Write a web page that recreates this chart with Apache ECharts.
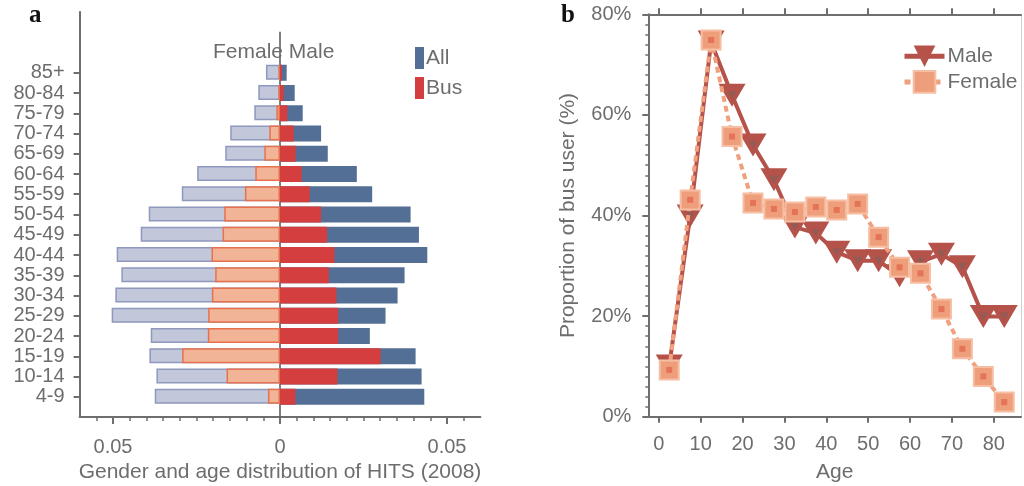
<!DOCTYPE html>
<html>
<head>
<meta charset="utf-8">
<script src="https://cdn.jsdelivr.net/npm/echarts@6/dist/echarts.min.js"></script>
<style>
  html, body { margin: 0; padding: 0; background: #ffffff; }
  #chart { width: 1024px; height: 486px; }
</style>
</head>
<body>
<div id="chart"></div>
<script>
// Age groups of the HITS 2008 survey, youngest first (bottom of the pyramid)
const ageGroups = ['4-9', '10-14', '15-19', '20-24', '25-29', '30-34', '35-39', '40-44', '45-49',
                   '50-54', '55-59', '60-64', '65-69', '70-74', '75-79', '80-84', '85+'];

// Share of the surveyed population in each age group
const femaleAll = [0.0375, 0.0370, 0.0391, 0.0387, 0.0504, 0.0493, 0.0475, 0.0489, 0.0417,
                   0.0393, 0.0294, 0.0248, 0.0164, 0.0149, 0.0077, 0.0065, 0.0042];
const femaleBus = [0.0036, 0.0160, 0.0293, 0.0216, 0.0215, 0.0204, 0.0194, 0.0205, 0.0172,
                   0.0167, 0.0105, 0.0074, 0.0047, 0.0032, 0.0011, 0.0005, 0.0004];
const maleAll   = [0.0432, 0.0424, 0.0406, 0.0269, 0.0316, 0.0352, 0.0373, 0.0441, 0.0416,
                   0.0391, 0.0276, 0.0230, 0.0143, 0.0123, 0.0068, 0.0044, 0.0020];
const maleBus   = [0.0046, 0.0172, 0.0301, 0.0174, 0.0174, 0.0169, 0.0146, 0.0163, 0.0141,
                   0.0123, 0.0089, 0.0065, 0.0047, 0.0041, 0.0022, 0.0011, 0.0006];
const pyramidTicks = [-0.05, 0, 0.05];

// Mid-point age of each group and the share of bus users in it (%)
const ageMid      = [2.5, 7.5, 12.5, 17.5, 22.5, 27.5, 32.5, 37.5, 42.5, 47.5, 52.5, 57.5, 62.5, 67.5, 72.5, 77.5, 82.5];
const maleShare   = [10.1, 39.9, 74.5, 63.9, 54.0, 47.1, 37.7, 36.5, 32.7, 31.0, 31.0, 28.0, 30.8, 32.3, 29.8, 19.9, 19.9];
const femaleShare = [9.3, 43.1, 74.9, 55.7, 42.5, 41.3, 40.7, 41.7, 41.1, 42.3, 35.7, 29.7, 28.5, 21.4, 13.5, 8.0, 2.9];
const ageTicks    = [0, 10, 20, 30, 40, 50, 60, 70, 80];

const FONT = "'Liberation Sans', Arial, sans-serif";
const TEXT = '#6d6d6d';
const AXIS = '#6e6e6e';

// Category slots of the pyramid: one blank slot below, three above for the header
const pyramidRows = [''].concat(ageGroups, [' ', '  ', '   ']);

// Minor ticks every 0.005 along the pyramid's value axis
const pyramidMinor = [];
for (let k = -11; k <= 11; k++) {
  if (k % 10 !== 0) pyramidMinor.push(+(k * 0.005).toFixed(3));
}

const pairs = (vals, sign) => vals.map((v, i) => [sign * v, ageGroups[i]]);
const points = (vals) => vals.map((v, i) => [ageMid[i], v]);

const chart = echarts.init(document.getElementById('chart'), null, { renderer: 'canvas' });

chart.setOption({
  animation: false,
  backgroundColor: '#ffffff',
  textStyle: { fontFamily: FONT },
  grid: [
    { left: 79.6, width: 400.8, top: 12, bottom: 69, outerBoundsMode: 'none', containLabel: false },
    { left: 648.3, right: 3, top: 14.3, bottom: 69.3, outerBoundsMode: 'none', containLabel: false }
  ],
  legend: [
    {
      data: ['All', 'Bus'],
      orient: 'vertical',
      left: 410, top: 42,
      icon: 'rect',
      itemWidth: 9, itemHeight: 22, itemGap: 8,
      selectedMode: false,
      textStyle: { fontSize: 21, color: TEXT, fontFamily: FONT, padding: [0, 0, 0, -3] }
    },
    {
      data: ['Male', 'Female'],
      orient: 'vertical',
      left: 897, top: 40.5,
      itemWidth: 40, itemHeight: 27, itemGap: 3,
      selectedMode: false,
      lineStyle: { width: 5 },
      textStyle: { fontSize: 21, color: TEXT, fontFamily: FONT, padding: [0, 0, 0, -2] }
    }
  ],
  graphic: [
    { type: 'text', left: 29, top: 3, style: { text: 'a', font: "bold 25px 'Liberation Serif', serif", fill: '#111' } },
    { type: 'text', left: 561, top: 3, style: { text: 'b', font: "bold 25px 'Liberation Serif', serif", fill: '#111' } },
    { type: 'text', left: 213, top: 42, z: 10, style: { text: 'Female Male', font: '21px ' + FONT, fill: TEXT } }
  ],
  xAxis: [
    {
      gridIndex: 0, type: 'value', position: 'bottom',
      min: -0.06, max: 0.06,
      name: 'Gender and age distribution of HITS (2008)',
      nameLocation: 'middle', nameGap: 45,
      nameTextStyle: { fontSize: 21, color: TEXT, fontFamily: FONT },
      axisLine: { show: true, lineStyle: { color: AXIS, width: 2 } },
      axisTick: { show: true, inside: false, length: 7, customValues: pyramidTicks, lineStyle: { color: AXIS, width: 2 } },
      axisLabel: { show: true, customValues: pyramidTicks, margin: 20, fontSize: 20, color: TEXT, fontFamily: FONT,
                   formatter: v => String(Math.abs(v)) },
      splitLine: { show: false }
    },
    {
      gridIndex: 0, type: 'value', position: 'bottom',
      min: -0.06, max: 0.06,
      axisLine: { show: false },
      axisTick: { show: true, inside: false, length: 4, customValues: pyramidMinor, lineStyle: { color: AXIS, width: 1.5 } },
      axisLabel: { show: false },
      splitLine: { show: false }
    },
    {
      gridIndex: 1, type: 'value', position: 'bottom',
      min: -2.5, max: 86.5,
      name: 'Age', nameLocation: 'middle', nameGap: 45,
      nameTextStyle: { fontSize: 21, color: TEXT, fontFamily: FONT },
      axisLine: { show: true, onZero: false, lineStyle: { color: AXIS, width: 2 } },
      axisTick: { show: true, inside: false, length: 6, customValues: ageTicks, lineStyle: { color: AXIS, width: 2 } },
      axisLabel: { show: true, customValues: ageTicks, margin: 18, fontSize: 20, color: TEXT, fontFamily: FONT },
      splitLine: { show: false }
    },
    {
      gridIndex: 1, type: 'value', position: 'top',
      min: -2.5, max: 86.5,
      axisLine: { show: true, onZero: false, lineStyle: { color: AXIS, width: 2 } },
      axisTick: { show: true, inside: false, length: 6, customValues: ageTicks, lineStyle: { color: AXIS, width: 2 } },
      axisLabel: { show: false },
      splitLine: { show: false }
    }
  ],
  yAxis: [
    {
      gridIndex: 0, type: 'category', data: pyramidRows, boundaryGap: false,
      axisLine: { show: true, onZero: false, lineStyle: { color: AXIS, width: 2 } },
      axisTick: { show: true, inside: false, length: 6, interval: (i, v) => v.trim() !== '',
                  lineStyle: { color: AXIS, width: 2 } },
      axisLabel: { show: true, interval: 0, margin: 15, fontSize: 20, color: TEXT, fontFamily: FONT },
      splitLine: { show: false }
    },
    {
      gridIndex: 1, type: 'value', position: 'left',
      min: 0, max: 80, interval: 20,
      name: 'Proportion of bus user (%)', nameLocation: 'middle', nameGap: 70,
      nameTextStyle: { fontSize: 21, color: TEXT, fontFamily: FONT },
      axisLine: { show: true, onZero: false, lineStyle: { color: AXIS, width: 2 } },
      axisTick: { show: true, inside: false, length: 6, lineStyle: { color: AXIS, width: 2 } },
      minorTick: { show: true, splitNumber: 10, length: 3, lineStyle: { color: AXIS, width: 1.5 } },
      axisLabel: { show: true, margin: 17, fontSize: 20, color: TEXT, fontFamily: FONT, formatter: '{value}%' },
      splitLine: { show: false },
      minorSplitLine: { show: false }
    },
    {
      gridIndex: 1, type: 'value', position: 'right',
      min: 0, max: 80,
      axisLine: { show: true, onZero: false, lineStyle: { color: '#d2d2d2', width: 1 } },
      axisTick: { show: false },
      axisLabel: { show: false },
      splitLine: { show: false }
    }
  ],
  series: [
    {
      name: 'Female all', type: 'bar', xAxisIndex: 0, yAxisIndex: 0,
      data: pairs(femaleAll, -1), barWidth: 15, barGap: '-100%',
      itemStyle: { color: '#c2c7da', borderColor: '#8f98bd', borderWidth: 1.5 },
      markLine: {
        silent: true, z: 1, symbol: ['none', 'none'], label: { show: false },
        lineStyle: { color: '#555555', width: 1.5, type: 'solid' },
        data: [[{ coord: [0, pyramidRows[19]] }, { coord: [0, pyramidRows[0]] }]]
      }
    },
    {
      name: 'Female bus', type: 'bar', xAxisIndex: 0, yAxisIndex: 0,
      data: pairs(femaleBus, -1), barWidth: 15, barGap: '-100%',
      itemStyle: { color: '#f1b497', borderColor: '#e8714d', borderWidth: 1.5 }
    },
    {
      name: 'All', type: 'bar', xAxisIndex: 0, yAxisIndex: 0,
      data: pairs(maleAll, 1), barWidth: 16, barGap: '-100%',
      itemStyle: { color: '#546f95' }
    },
    {
      name: 'Bus', type: 'bar', xAxisIndex: 0, yAxisIndex: 0,
      data: pairs(maleBus, 1), barWidth: 16, barGap: '-100%',
      itemStyle: { color: '#d43e3e' }
    },
    {
      name: 'Male', type: 'line', xAxisIndex: 2, yAxisIndex: 1, z: 2,
      data: points(maleShare),
      symbol: 'triangle', symbolRotate: 180, symbolSize: [27, 23],
      lineStyle: { color: '#b5524a', width: 4 },
      itemStyle: { color: '#b5524a' }
    },
    {
      name: 'Male centre', type: 'scatter', xAxisIndex: 2, yAxisIndex: 1, z: 3,
      data: points(maleShare),
      symbol: 'triangle', symbolRotate: 180, symbolSize: [9, 8],
      itemStyle: { color: '#8d5d56' }
    },
    {
      name: 'Female', type: 'line', xAxisIndex: 2, yAxisIndex: 1, z: 4,
      data: points(femaleShare),
      symbol: 'rect', symbolSize: 19,
      lineStyle: { color: '#f0a07e', width: 4, type: [6, 4] },
      itemStyle: { color: '#ef9e7c', borderColor: '#f6bfa4', borderWidth: 2 }
    },
    {
      name: 'Female centre', type: 'scatter', xAxisIndex: 2, yAxisIndex: 1, z: 5,
      data: points(femaleShare),
      symbol: 'rect', symbolSize: 6,
      itemStyle: { color: '#e2694e' }
    }
  ]
});
</script>
</body>
</html>
